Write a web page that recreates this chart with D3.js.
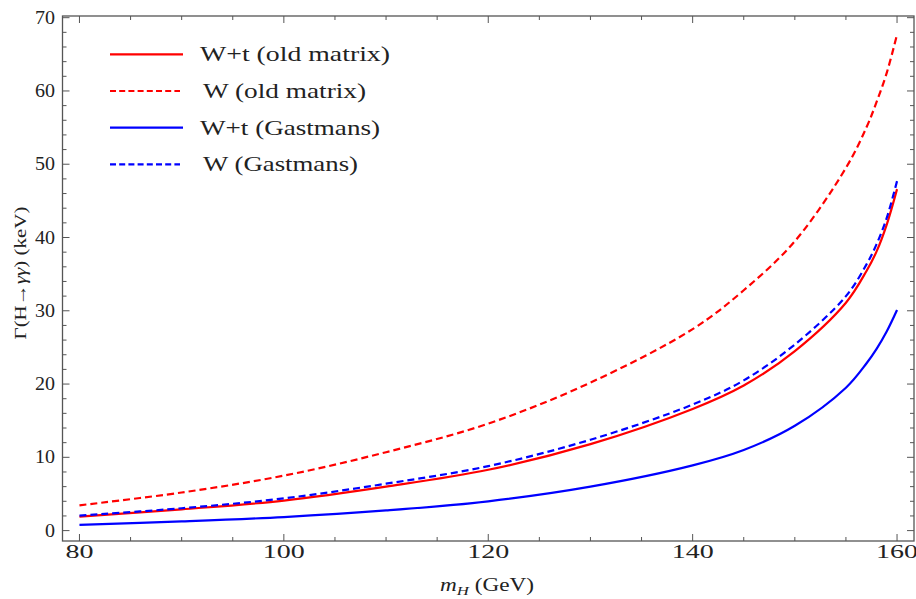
<!DOCTYPE html>
<html>
<head>
<meta charset="utf-8">
<script src="https://cdn.jsdelivr.net/npm/d3@7"></script>
<style>
  body { margin: 0; background: #fff; }
  text { font-family: "Liberation Serif", "DejaVu Serif", serif; }
</style>
</head>
<body>
<svg id="chart" width="916" height="599"></svg>
<script>
// Higgs mass (GeV)
var mH = [80, 90, 100, 110, 120, 130, 140, 145, 150, 155, 157, 158, 159, 160];
// widths in keV
var wtOld = [1.9, 2.9, 4.1, 6.0, 8.3, 11.8, 16.6, 19.8, 24.5, 31.1, 35.4, 38.1, 41.8, 46.6];
var wOld = [3.45, 5.2, 7.5, 10.7, 14.6, 20.2, 27.5, 32.8, 39.5, 49.5, 55.0, 58.5, 62.5, 67.7];
var wtGast = [0.78, 1.25, 1.85, 2.75, 4.0, 6.0, 8.9, 11.0, 14.3, 19.5, 22.8, 24.8, 27.2, 30.1];
var wGast = [2.05, 3.05, 4.4, 6.4, 8.8, 12.4, 17.2, 20.5, 25.4, 32.0, 36.3, 39.1, 42.7, 47.7];

var seriesNames = ["W+t (old matrix)", "W (old matrix)", "W+t (Gastmans)", "W (Gastmans)"];
var xTicks = [80, 100, 120, 140, 160];
var yTicks = [0, 10, 20, 30, 40, 50, 60, 70];

var series = [
  { name: seriesNames[0], vals: wtOld, color: "#ff0000", dash: null },
  { name: seriesNames[1], vals: wOld, color: "#ff0000", dash: "7,4" },
  { name: seriesNames[2], vals: wtGast, color: "#0000ff", dash: null },
  { name: seriesNames[3], vals: wGast, color: "#0000ff", dash: "7,4" }
];

(function () {
  var svg = d3.select("#chart");
  var pl = 62.5, pr = 914, pt = 16, pb = 541;

  var x = d3.scaleLinear().domain([78.34, 161.66]).range([pl, pr]);
  var y = d3.scaleLinear().domain([-1.42, 70.23]).range([pb, pt]);

  var axisColor = "#555";

  // frame
  svg.append("rect")
    .attr("x", pl).attr("y", pt)
    .attr("width", pr - pl).attr("height", pb - pt)
    .attr("fill", "none").attr("stroke", axisColor).attr("stroke-width", 1.3);

  // ticks on all four sides
  var xMinor = d3.range(80, 161, 5).filter(function (d) { return xTicks.indexOf(d) < 0; });
  var yMinor = d3.range(0, 71, 2).filter(function (d) { return yTicks.indexOf(d) < 0; });

  var g = svg.append("g").attr("stroke", axisColor).attr("stroke-width", 1);
  function xt(vals, len) {
    vals.forEach(function (v) {
      g.append("line").attr("x1", x(v)).attr("x2", x(v)).attr("y1", pb).attr("y2", pb - len);
      g.append("line").attr("x1", x(v)).attr("x2", x(v)).attr("y1", pt).attr("y2", pt + len);
    });
  }
  function yt(vals, len) {
    vals.forEach(function (v) {
      g.append("line").attr("y1", y(v)).attr("y2", y(v)).attr("x1", pl).attr("x2", pl + len);
      g.append("line").attr("y1", y(v)).attr("y2", y(v)).attr("x1", pr).attr("x2", pr - len);
    });
  }
  xt(xTicks, 7); xt(xMinor, 4);
  yt(yTicks, 7); yt(yMinor, 4);

  svg.selectAll(".xl").data(xTicks).enter().append("text")
    .attr("x", function (d) { return x(d); })
    .attr("y", 558)
    .attr("text-anchor", "middle")
    .attr("font-size", 19)
    .attr("fill", "#222")
    .attr("textLength", function (d) { return String(d).length * 14; })
    .attr("lengthAdjust", "spacingAndGlyphs")
    .text(function (d) { return d; });

  svg.selectAll(".yl").data(yTicks).enter().append("text")
    .attr("x", 55)
    .attr("y", function (d) { return y(d) + 6; })
    .attr("text-anchor", "end")
    .attr("font-size", 18)
    .attr("fill", "#222")
    .attr("textLength", function (d) { return String(d).length * 10; })
    .attr("lengthAdjust", "spacingAndGlyphs")
    .text(function (d) { return d; });

  // axis labels
  var xl = svg.append("text").attr("x", 487).attr("y", 591).attr("text-anchor", "middle")
    .attr("font-size", 18).attr("fill", "#222")
    .attr("textLength", 94).attr("lengthAdjust", "spacingAndGlyphs");
  xl.append("tspan").attr("font-style", "italic").text("m");
  xl.append("tspan").attr("font-style", "italic").attr("font-size", 13).attr("dy", 4).text("H");
  xl.append("tspan").attr("dy", -4).text(" (GeV)");

  var yl = svg.append("text")
    .attr("transform", "translate(26,273) rotate(-90)")
    .attr("text-anchor", "middle").attr("font-size", 17).attr("fill", "#222")
    .attr("textLength", 133).attr("lengthAdjust", "spacingAndGlyphs");
  yl.append("tspan").text("Γ(H→");
  yl.append("tspan").attr("font-style", "italic").text("γγ");
  yl.append("tspan").text(") (keV)");

  // curves
  var line = d3.line()
    .x(function (d, i) { return x(mH[i]); })
    .y(function (d) { return y(d); })
    .curve(d3.curveCatmullRom.alpha(0.5));

  svg.append("g").selectAll("path").data(series).enter().append("path")
    .attr("d", function (s) { return line(s.vals); })
    .attr("fill", "none")
    .attr("stroke", function (s) { return s.color; })
    .attr("stroke-width", 2.2)
    .attr("stroke-dasharray", function (s) { return s.dash; });

  // legend
  var legY = [54.3, 91, 127.7, 164.3];
  var legW = [190, 163, 180, 155];
  var leg = svg.append("g");
  series.forEach(function (s, i) {
    leg.append("line")
      .attr("x1", 110).attr("x2", s.dash ? 180 : 183)
      .attr("y1", legY[i]).attr("y2", legY[i])
      .attr("stroke", s.color).attr("stroke-width", 2.2)
      .attr("stroke-dasharray", s.dash ? "6,3.2" : null);
    leg.append("text")
      .attr("x", s.dash ? 203 : 200)
      .attr("y", legY[i] + 7)
      .attr("font-size", 21)
      .attr("fill", "#222")
      .attr("textLength", legW[i])
      .attr("lengthAdjust", "spacingAndGlyphs")
      .text(s.name);
  });
})();
</script>
</body>
</html>
